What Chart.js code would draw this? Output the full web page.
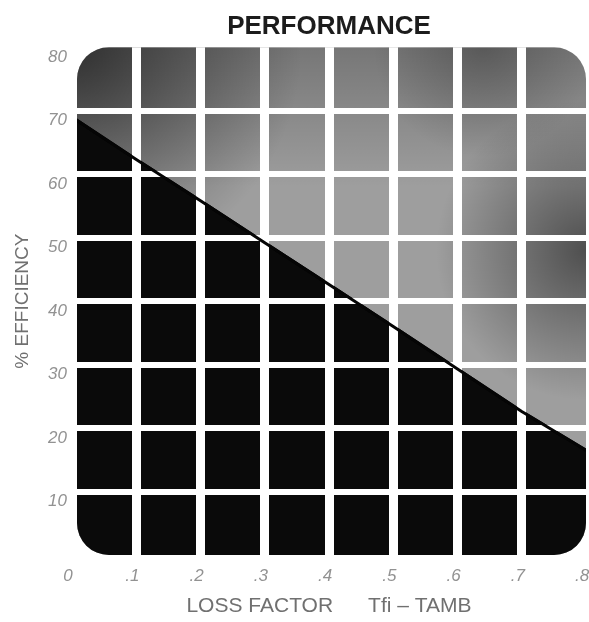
<!DOCTYPE html>
<html>
<head>
<meta charset="utf-8">
<script src="https://cdn.jsdelivr.net/npm/chart.js@4.4.1/dist/chart.umd.min.js"></script>
<style>
  html, body { margin: 0; padding: 0; background: #ffffff; }
  #wrap { width: 589px; height: 622px; }
</style>
</head>
<body>
<div id="wrap"><canvas id="c" width="589" height="622"></canvas></div>
<script>
// ---- data ----
const chartTitle = 'PERFORMANCE';
const xAxisTitle = 'LOSS FACTOR      Tfi \u2013 TAMB';
const yAxisTitle = '% EFFICIENCY';
const xTickLabels = ['0', '.1', '.2', '.3', '.4', '.5', '.6', '.7', '.8'];
const yTickLabels = ['', '10', '20', '30', '40', '50', '60', '70', '80'];
const lossFactor = [0, 0.1, 0.2, 0.3, 0.4, 0.5, 0.6, 0.7, 0.8];
const efficiency = [69, 62.3, 55.8, 49.2, 42.6, 36, 29.3, 22.6, 16.5];

const points = lossFactor.map((x, i) => ({ x: x, y: efficiency[i] }));

function panelPath(ctx, a) {
  const l = a.left + 5, t = a.top, r = a.right, b = a.bottom, rad = 32;
  ctx.beginPath();
  ctx.moveTo(l + rad, t);
  ctx.lineTo(r - rad, t);
  ctx.arcTo(r, t, r, t + rad, rad);
  ctx.lineTo(r, b - rad);
  ctx.arcTo(r, b, r - rad, b, rad);
  ctx.lineTo(l + rad, b);
  ctx.arcTo(l, b, l, b - rad, rad);
  ctx.lineTo(l, t + rad);
  ctx.arcTo(l, t, l + rad, t, rad);
  ctx.closePath();
}

function shade(ctx, a, cx, cy, r, alpha) {
  const g = ctx.createRadialGradient(cx, cy, 0, cx, cy, r);
  g.addColorStop(0, 'rgba(0,0,0,' + alpha + ')');
  g.addColorStop(1, 'rgba(0,0,0,0)');
  ctx.fillStyle = g;
  ctx.fillRect(a.left, a.top, a.width, a.height);
}

const panelPlugin = {
  id: 'panel',
  beforeDatasetsDraw(chart) {
    const { ctx, chartArea: a } = chart;
    ctx.save();
    panelPath(ctx, a);
    ctx.clip();
    ctx.fillStyle = '#9e9e9e';
    ctx.fillRect(a.left, a.top, a.width, a.height);
    const lg = ctx.createLinearGradient(0, a.top, 0, a.top + 140);
    lg.addColorStop(0, 'rgba(0,0,0,0.25)');
    lg.addColorStop(1, 'rgba(0,0,0,0)');
    ctx.fillStyle = lg;
    ctx.fillRect(a.left, a.top, a.width, a.height);
    shade(ctx, a, a.left, a.top, 230, 0.6);
    shade(ctx, a, a.right, a.top + a.height * 0.4, 150, 0.5);
    shade(ctx, a, a.left + a.width * 0.8, a.top, 110, 0.25);
  },
  afterDatasetsDraw(chart) {
    chart.ctx.restore();
  },
  afterDraw(chart) {
    const { ctx, chartArea: a } = chart;
    ctx.save();
    panelPath(ctx, a);
    ctx.clip();
    chart.getDatasetMeta(0).dataset.draw(ctx, a);
    ctx.restore();
  }
};

const edgeHidden = (n) => (c) => (c.index === 0 || c.index === n - 1) ? 'rgba(255,255,255,0)' : '#ffffff';

new Chart(document.getElementById('c'), {
  type: 'line',
  data: {
    datasets: [{
      data: points,
      borderColor: '#050505',
      borderWidth: 3,
      backgroundColor: '#0a0a0a',
      fill: 'origin',
      pointRadius: 0,
      tension: 0
    }]
  },
  options: {
    responsive: false,
    devicePixelRatio: 1,
    animation: false,
    layout: { padding: { left: 0, right: 3, top: 0, bottom: 0 } },
    plugins: {
      legend: { display: false },
      tooltip: { enabled: false },
      title: {
        display: true,
        text: chartTitle,
        fullSize: false,
        color: '#1c1c1c',
        font: { family: '"Liberation Sans", Arial, sans-serif', size: 26, weight: 'bold' },
        padding: { top: 11, bottom: 5 }
      }
    },
    scales: {
      x: {
        type: 'linear',
        min: 0,
        max: 0.8,
        ticks: {
          stepSize: 0.1,
          padding: 11,
          labelOffset: -4,
          color: '#929292',
          font: { family: '"Liberation Sans", Arial, sans-serif', size: 17, style: 'italic' },
          callback: (v, i) => xTickLabels[i]
        },
        grid: { z: 1, color: edgeHidden(xTickLabels.length), lineWidth: 9, drawTicks: false },
        border: { display: false },
        title: {
          display: true,
          text: xAxisTitle,
          color: '#707070',
          font: { family: '"Liberation Sans", Arial, sans-serif', size: 21 },
          padding: { top: 0, bottom: 3 }
        },
        afterFit: (s) => { s.paddingRight = 0; s.paddingLeft = 0; s.height = 67; }
      },
      y: {
        type: 'linear',
        min: 0,
        max: 80,
        ticks: {
          stepSize: 10,
          padding: 5,
          labelOffset: 10,
          color: '#929292',
          font: { family: '"Liberation Sans", Arial, sans-serif', size: 17, style: 'italic' },
          callback: (v, i) => yTickLabels[i]
        },
        grid: { z: 1, color: edgeHidden(yTickLabels.length), lineWidth: 6, drawTicks: false },
        border: { display: false },
        title: {
          display: true,
          text: yAxisTitle,
          color: '#707070',
          font: { family: '"Liberation Sans", Arial, sans-serif', size: 19 },
          padding: { top: 11, bottom: 0 }
        },
        afterFit: (s) => { s.width = 72; s.paddingTop = 0; s.paddingBottom = 0; }
      }
    }
  },
  plugins: [panelPlugin]
});
</script>
</body>
</html>
